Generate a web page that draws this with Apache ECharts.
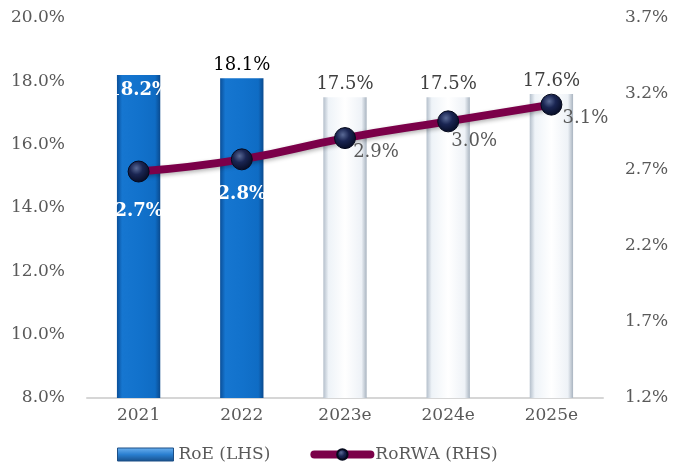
<!DOCTYPE html>
<html>
<head>
<meta charset="utf-8">
<script src="https://cdn.jsdelivr.net/npm/echarts@6/dist/echarts.min.js"></script>
<style>
  html, body { margin: 0; padding: 0; background: #fff; }
  #chart { width: 676px; height: 468px; }
</style>
</head>
<body>
<div id="chart"></div>
<script>
// data
const years = ['2021', '2022', '2023e', '2024e', '2025e'];
const roe = [18.2, 18.1, 17.5, 17.5, 17.6];        // left axis, %
const rorwa = [2.69, 2.77, 2.91, 3.02, 3.13];      // right axis, %
const estimated = [false, false, true, true, true];

const font = 'DejaVu Serif';
const grey = '#595959';

// glassy bar fills
const blueFill = new echarts.graphic.LinearGradient(0, 0, 1, 0, [
  { offset: 0, color: '#0a4f99' },
  { offset: 0.12, color: '#1676d0' },
  { offset: 0.5, color: '#1272cc' },
  { offset: 0.88, color: '#0f6cc4' },
  { offset: 1, color: '#0a4a8e' }
]);
const whiteFill = new echarts.graphic.LinearGradient(0, 0, 1, 0, [
  { offset: 0, color: '#b4bfcb' },
  { offset: 0.12, color: '#eef3f8' },
  { offset: 0.5, color: '#ffffff' },
  { offset: 0.88, color: '#eef2f7' },
  { offset: 1, color: '#a9b4c0' }
]);
const ball = new echarts.graphic.RadialGradient(0.4, 0.35, 0.65, [
  { offset: 0, color: '#5a6a96' },
  { offset: 0.45, color: '#1a2552' },
  { offset: 1, color: '#070d26' }
]);

const barData = roe.map((v, i) => {
  const item = { value: v, itemStyle: { color: estimated[i] ? whiteFill : blueFill } };
  if (i === 0) {
    item.label = { position: 'insideTop', distance: 6, color: '#fff', fontWeight: 'bold' };
  } else if (i === 1) {
    item.label = { color: '#000' };
  }
  return item;
});

// label placement around the line points
const lineLabels = [
  { offset: [0, 40], color: '#fff', fontWeight: 'bold' },
  { offset: [0, 35], color: '#fff', fontWeight: 'bold' },
  { offset: [31, 14], color: grey },
  { offset: [26, 20], color: grey },
  { offset: [34, 14], color: grey }
];
const lineData = rorwa.map((v, i) => ({
  value: v,
  label: Object.assign({ position: 'inside' }, lineLabels[i])
}));

const chart = echarts.init(document.getElementById('chart'));
chart.setOption({
  animation: false,
  textStyle: { fontFamily: font },
  grid: { left: 87, right: 73, top: 18, bottom: 70 },
  legend: {
    bottom: 0,
    left: 112,
    itemWidth: 56,
    itemHeight: 13,
    itemGap: 40,
    textStyle: { fontFamily: font, fontSize: 17, color: grey },
    data: [
      {
        name: 'RoE (LHS)',
        icon: 'rect',
        itemStyle: {
          color: new echarts.graphic.LinearGradient(0, 0, 0, 1, [
            { offset: 0, color: '#6fb3f0' },
            { offset: 0.5, color: '#2a7fd0' },
            { offset: 1, color: '#174f8a' }
          ]),
          borderColor: '#1d4f86',
          borderWidth: 1
        }
      },
      {
        name: 'RoRWA (RHS)',
        lineStyle: { color: '#7b0049', width: 8, cap: 'round' }
      }
    ]
  },
  xAxis: {
    type: 'category',
    data: years,
    axisLine: { lineStyle: { color: '#d6d6d6', width: 2 } },
    axisTick: { show: false },
    axisLabel: { color: grey, fontSize: 17, fontFamily: font, margin: 9 }
  },
  yAxis: [
    {
      type: 'value',
      min: 8, max: 20, interval: 2,
      splitLine: { show: false },
      axisLine: { show: false },
      axisLabel: { color: grey, fontSize: 17, fontFamily: font, margin: 22,
        formatter: v => v.toFixed(1) + '%' }
    },
    {
      type: 'value',
      min: 1.2, max: 3.7, interval: 0.5,
      splitLine: { show: false },
      axisLine: { show: false },
      axisLabel: { color: grey, fontSize: 17, fontFamily: font, margin: 22,
        formatter: v => v.toFixed(1) + '%' }
    }
  ],
  series: [
    {
      name: 'RoE (LHS)',
      type: 'bar',
      barWidth: '42%',
      data: barData,
      itemStyle: { color: blueFill },
      label: {
        show: true,
        position: 'top',
        distance: 4,
        fontFamily: font,
        fontSize: 18,
        color: '#404040',
        formatter: p => p.value.toFixed(1) + '%'
      }
    },
    {
      name: 'RoRWA (RHS)',
      type: 'line',
      yAxisIndex: 1,
      smooth: true,
      data: lineData,
      symbol: 'circle',
      symbolSize: 21,
      lineStyle: { color: '#7b0049', width: 8, shadowColor: 'rgba(0,0,0,0.3)', shadowBlur: 4, shadowOffsetY: 2 },
      itemStyle: { color: ball, borderColor: '#05091c', borderWidth: 1 },
      label: {
        show: true,
        fontFamily: font,
        fontSize: 18,
        formatter: p => p.value.toFixed(1) + '%'
      },
      z: 5
    }
  ]
});
</script>
</body>
</html>
